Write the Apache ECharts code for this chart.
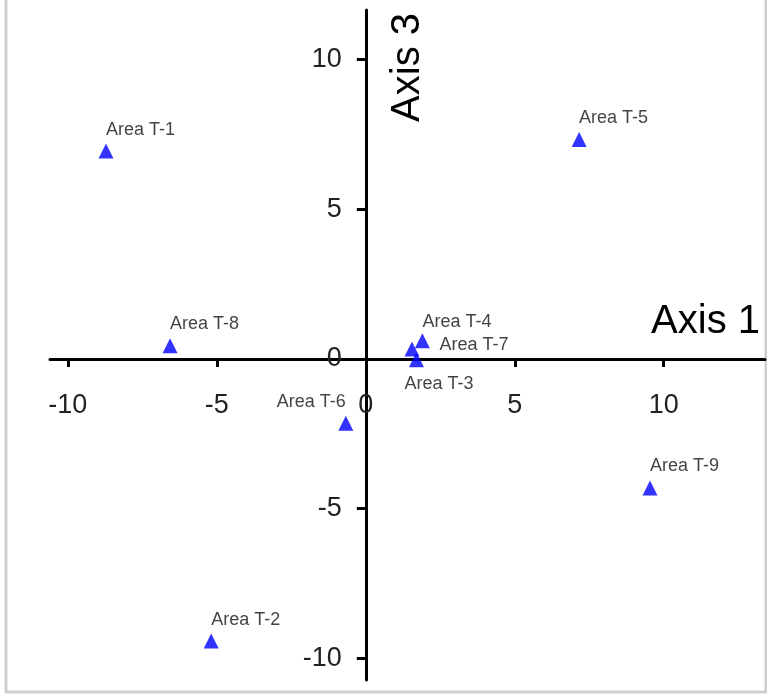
<!DOCTYPE html>
<html><head><meta charset="utf-8">
<script src="https://cdn.jsdelivr.net/npm/echarts@6/dist/echarts.min.js"></script>
<style>html,body{margin:0;padding:0;background:#fff}#c{width:767px;height:698px}</style>
</head><body><div id="c"></div>
<script>
const areaNames = ['Area T-1','Area T-2','Area T-3','Area T-4','Area T-5','Area T-6','Area T-7','Area T-8','Area T-9'];
const axis1Values = [-8.72, -5.19, 1.70, 1.90, 7.16, -0.67, 1.55, -6.57, 9.54];
const axis3Values = [6.94, -9.42, -0.03, 0.61, 7.33, -2.15, 0.33, 0.44, -4.31];
const xTickValues = [-10, -5, 0, 5, 10];
const yTickValues = [-10, -5, 0, 5, 10];
const xAxisName = 'Axis 1';
const yAxisName = 'Axis 3';

const FONT = "'Liberation Sans', Arial, sans-serif";
const W = 767, H = 698;
const G = {left: 50, right: 2, top: 10, bottom: 18};
const X_MIN = -10.6, X_MAX = 13.4, Y_MIN = -10.72, Y_MAX = 11.65;
// place each axis through the origin by shifting it from the grid edge
const xAxisOffset = -((0 - Y_MIN) / (Y_MAX - Y_MIN)) * (H - G.top - G.bottom);
const yAxisOffset = -((0 - X_MIN) / (X_MAX - X_MIN)) * (W - G.left - G.right);

const baseLabel = {show: true, position: 'top', align: 'left', distance: 5,
  fontSize: 18, color: '#111', fontFamily: FONT, formatter: p => p.data.name};
const labelOverrides = {
  'Area T-3': {position: 'bottom', align: 'left', distance: 8, offset: [-12, 0]},
  'Area T-4': {offset: [0, 3]},
  'Area T-6': {align: 'right'},
  'Area T-7': {position: 'right', align: 'left', distance: 20, offset: [0, -4]}
};
const data = areaNames.map((n, i) => {
  const d = {name: n, value: [axis1Values[i], axis3Values[i]]};
  if (labelOverrides[n]) d.label = Object.assign({}, baseLabel, labelOverrides[n]);
  return d;
});

const chart = echarts.init(document.getElementById('c'));
chart.setOption({
  animation: false,
  backgroundColor: '#fff',
  grid: Object.assign({containLabel: false, outerBoundsMode: 'none'}, G),
  graphic: [{type: 'rect', z: -10, silent: true,
    shape: {x: 6, y: -10, width: 760, height: 702},
    style: {fill: null, stroke: '#cfcfcf', lineWidth: 3}}],
  xAxis: {
    type: 'value', min: X_MIN, max: X_MAX, position: 'bottom', offset: xAxisOffset,
    splitLine: {show: false},
    axisLine: {onZero: false, lineStyle: {color: '#000', width: 3}},
    axisTick: {customValues: xTickValues, length: 8, lineStyle: {color: '#000', width: 3}},
    axisLabel: {customValues: xTickValues, fontSize: 27, margin: 33, color: '#222', fontFamily: FONT},
    name: xAxisName, nameLocation: 'end', nameGap: -5,
    nameTextStyle: {fontSize: 40, color: '#000', fontFamily: FONT, align: 'right', verticalAlign: 'bottom', padding: [0, 0, 17, 0]}
  },
  yAxis: {
    type: 'value', min: Y_MIN, max: Y_MAX, position: 'left', offset: yAxisOffset,
    splitLine: {show: false},
    axisLine: {onZero: false, lineStyle: {color: '#000', width: 3}},
    axisTick: {customValues: yTickValues, length: 9, lineStyle: {color: '#000', width: 3}},
    axisLabel: {customValues: yTickValues, fontSize: 27, margin: 24, color: '#222', fontFamily: FONT},
    name: yAxisName, nameLocation: 'end', nameGap: -3, nameRotate: 90,
    nameTextStyle: {fontSize: 40, color: '#000', fontFamily: FONT, align: 'right', verticalAlign: 'top', padding: [22, 0, 0, 0]}
  },
  series: [{
    type: 'scatter', symbol: 'triangle', symbolSize: 15,
    itemStyle: {color: '#0000ff'},
    label: baseLabel,
    data: data
  }]
});
</script></body></html>
